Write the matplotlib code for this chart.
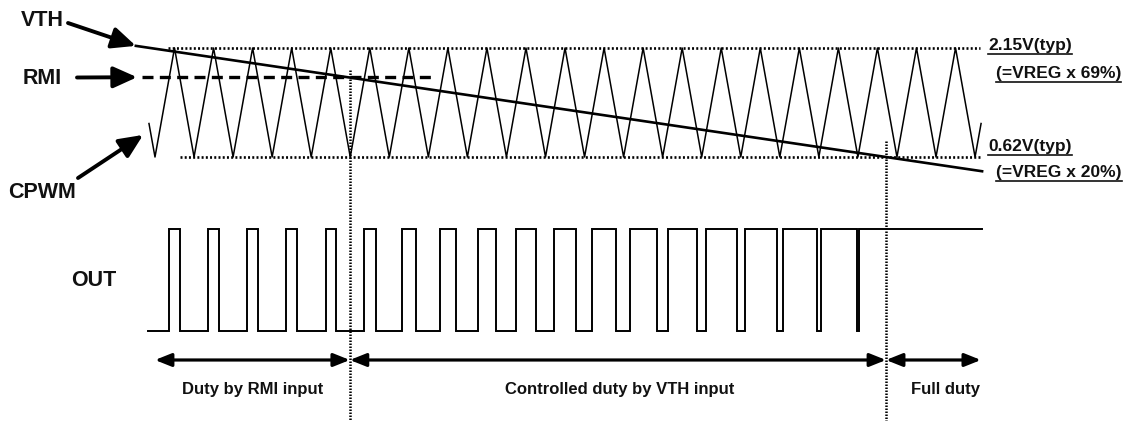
import matplotlib
matplotlib.use("Agg")
import matplotlib.pyplot as plt

plt.rcParams['font.family'] = ['Liberation Sans', 'DejaVu Sans']

# ---------------- data (time unit = one CPWM period) ----------------
cpwm_low_v = 0.62
cpwm_high_v = 2.15
cpwm_valley_t = [0, 1, 2, 3, 4, 5, 6, 7, 8, 9, 10, 11, 12, 13, 14, 15, 16, 17, 18, 19, 20, 21]
cpwm_peak_t = [0.5, 1.5, 2.5, 3.5, 4.5, 5.5, 6.5, 7.5, 8.5, 9.5, 10.5, 11.5, 12.5, 13.5,
               14.5, 15.5, 16.5, 17.5, 18.5, 19.5, 20.5]
cpwm_start_t, cpwm_start_v = -0.154, 1.09
cpwm_end_t, cpwm_end_v = 21.154, 1.09

vth_t = [-0.49, 21.18]
vth_v = [2.18, 0.42]

rmi_t = [-0.33, 7.17]
rmi_v = 1.74

boundary_t = [4.99, 18.72]
boundary_top_v = [1.84, 0.85]

out_start_t, out_end_t = -0.18, 21.17
out_rise_t = [0.367, 1.367, 2.367, 3.367, 4.367, 5.355, 6.329, 7.303, 8.277, 9.251, 10.226,
              11.200, 12.174, 13.148, 14.122, 15.096, 16.070, 17.045, 18.019]
out_fall_t = [0.633, 1.633, 2.633, 3.633, 4.633, 5.653, 6.680, 7.708, 8.735, 9.762, 10.789,
              11.817, 12.844, 13.871, 14.898, 15.926, 16.953, 17.980, 21.17]

region_edges_t = [0.0, 4.99, 18.72, 21.15]
region_labels = ["Duty by RMI input", "Controlled duty by VTH input", "Full duty"]
region_label_t = [2.51, 11.9, 20.24]

level_labels = ["2.15V(typ)", "(=VREG x 69%)", "0.62V(typ)", "(=VREG x 20%)"]
signal_labels = ["VTH", "RMI", "CPWM", "OUT"]

# ---------------- figure ----------------
W, H = 1129, 421
fig = plt.figure(figsize=(W / 100, H / 100), dpi=100)
T0, T1 = -3.969, 24.942

ax_v = fig.add_axes([0, 0, 1, 1])
ax_v.set_xlim(T0, T1)
ax_v.set_ylim(-3.0857, 2.8238)
ax_v.axis('off')

ax_o = fig.add_axes([0, 0, 1, 1])
ax_o.set_xlim(T0, T1)
ax_o.set_ylim(-0.882, 3.245)
ax_o.axis('off')
ax_o.patch.set_visible(False)

ax_p = fig.add_axes([0, 0, 1, 1])
ax_p.set_xlim(0, W)
ax_p.set_ylim(H, 0)
ax_p.axis('off')
ax_p.patch.set_visible(False)

dot = (0, (0.75, 0.85))

# level lines
ax_v.plot([0.33, 21.13], [cpwm_high_v, cpwm_high_v], color='black', lw=1.9, linestyle=dot)
ax_v.plot([0.64, 21.13], [cpwm_low_v, cpwm_low_v], color='black', lw=1.9, linestyle=dot)

# CPWM triangle
pts = [(cpwm_start_t, cpwm_start_v)]
pts += [(t, cpwm_low_v) for t in cpwm_valley_t]
pts += [(t, cpwm_high_v) for t in cpwm_peak_t]
pts.append((cpwm_end_t, cpwm_end_v))
pts.sort()
ax_v.plot([p[0] for p in pts], [p[1] for p in pts], color='black', lw=1.1)

# RMI dashed line
ax_v.plot(rmi_t, [rmi_v, rmi_v], color='black', lw=2.4, linestyle=(0, (3.3, 1.9)),
          solid_capstyle='butt', dash_capstyle='butt')

# VTH line
ax_v.plot(vth_t, vth_v, color='black', lw=1.9)

# boundary dotted verticals
for bt, bv in zip(boundary_t, boundary_top_v):
    ax_v.plot([bt, bt], [bv, -3.1], color='black', lw=1.8, linestyle=(0, (0.6, 0.6)))

# OUT waveform
ox, oy = [out_start_t], [0]
for r, f in zip(out_rise_t, out_fall_t):
    ox += [r, r, f, f]
    oy += [0, 1, 1, 0]
ox[-1] = out_end_t
oy[-1] = 1
ax_o.plot(ox, oy, color='black', lw=1.4, solid_joinstyle='miter')

# region arrows
arrow_y = -0.284
for a, b in zip(region_edges_t[:-1], region_edges_t[1:]):
    ax_o.annotate('', xy=(b, arrow_y), xytext=(a, arrow_y),
                  arrowprops=dict(arrowstyle='<|-|>,head_length=0.75,head_width=0.3',
                                  mutation_scale=13, lw=2.3, color='black',
                                  shrinkA=0, shrinkB=0))
for lab, lt in zip(region_labels, region_label_t):
    ax_o.text(lt, -0.62, lab, ha='center', va='baseline', fontsize=12,
              fontweight='bold', color='#111111')

# signal labels with arrows
lab_kw = dict(fontsize=15.5, fontweight='bold', ha='center', va='center', color='#111111')
ax_p.text(42, 20, signal_labels[0], **lab_kw)
ax_p.text(42, 78, signal_labels[1], **lab_kw)
ax_p.text(42, 193, signal_labels[2], **lab_kw)
ax_p.text(94, 281, signal_labels[3], **lab_kw)

akw = dict(arrowstyle='-|>,head_length=0.8,head_width=0.36', mutation_scale=18,
           lw=2.8, color='black', shrinkA=0, shrinkB=0)
ax_p.annotate('', xy=(vth_t[0], vth_v[0]), xycoords=ax_v.transData,
              xytext=(68, 23), textcoords=ax_p.transData, arrowprops=akw)
ax_p.annotate('', xy=(rmi_t[0] - 0.13, rmi_v), xycoords=ax_v.transData,
              xytext=(77, 77.5), textcoords=ax_p.transData, arrowprops=akw)
ax_p.annotate('', xy=(cpwm_start_t - 0.15, 0.93), xycoords=ax_v.transData,
              xytext=(78, 178), textcoords=ax_p.transData, arrowprops=akw)

# level labels (underlined)
lv_kw = dict(fontsize=12.5, fontweight='bold', ha='left', va='baseline', color='#111111')
texts = [ax_p.text(988, 50, level_labels[0], **lv_kw),
         ax_p.text(996, 78, level_labels[1], **lv_kw),
         ax_p.text(988, 151, level_labels[2], **lv_kw),
         ax_p.text(996, 177, level_labels[3], **lv_kw)]
fig.canvas.draw()
renderer = fig.canvas.get_renderer()
inv = ax_p.transData.inverted()
for t in texts:
    bb = t.get_window_extent(renderer)
    (x0, _), (x1, _) = inv.transform([(bb.x0, bb.y0), (bb.x1, bb.y0)])
    by = t.get_position()[1] + 4
    ax_p.plot([x0, x1], [by, by], color='#111111', lw=1.2)

fig.savefig('out.png', dpi=100, facecolor='white')
